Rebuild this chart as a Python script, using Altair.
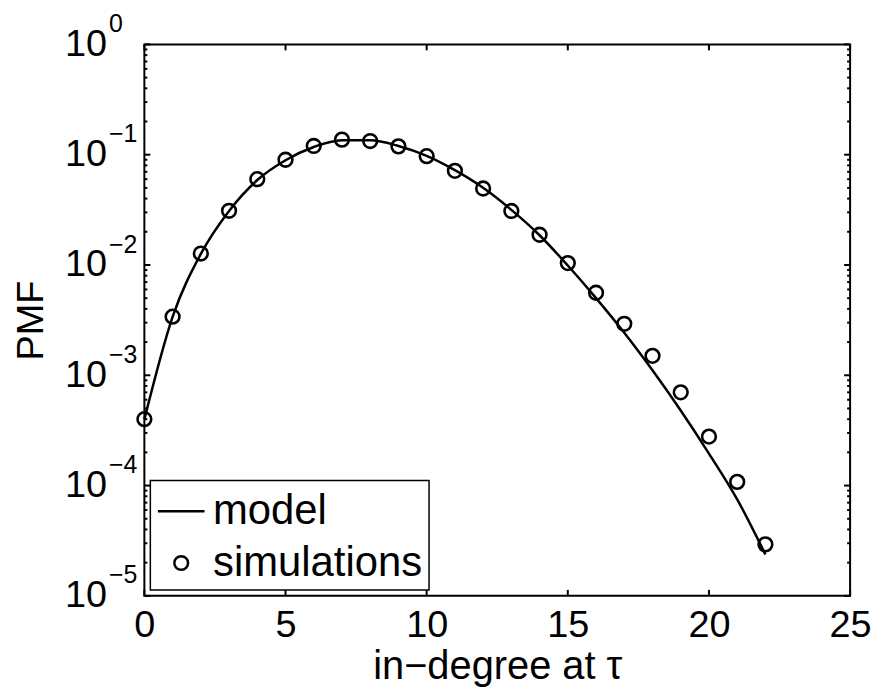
import altair as alt
import pandas as pd

degree = list(range(23))
sim_pmf = [4.0e-4, 3.4e-3, 1.27e-2, 3.1e-2, 6.0e-2, 9.0e-2, 0.120, 0.137, 0.133,
           0.119, 0.097, 0.0714, 0.0494, 0.0309, 0.0188, 0.0104, 5.6e-3, 2.93e-3,
           1.50e-3, 7.0e-4, 2.78e-4, 1.08e-4, 2.93e-5]
model_pmf = [3.98e-4, 3.39e-3, 1.26e-2, 3.09e-2, 5.89e-2, 8.91e-2, 0.1175, 0.135,
             0.135, 0.120, 0.0977, 0.0724, 0.0501, 0.0316, 0.0186, 9.89e-3, 5.01e-3,
             2.43e-3, 1.109e-3, 4.79e-4, 1.95e-4, 7.50e-5, 2.37e-5]
series_names = ["model", "simulations"]
x_ticks = [0, 5, 10, 15, 20, 25]
y_major = [1e-5, 1e-4, 1e-3, 1e-2, 1e-1, 1e0]
y_minor = [k * d for d in [1e-5, 1e-4, 1e-3, 1e-2, 1e-1] for k in range(2, 10)]

W, H = 709, 554
FONT = "Liberation Sans"
MAJ, MIN = 6, 3

model_df = pd.DataFrame({"x": degree, "y": model_pmf, "series": "model"})
sim_df = pd.DataFrame({"x": degree, "y": sim_pmf, "series": "simulations"})
xt_df = pd.DataFrame({"x": x_ticks})
ymaj_df = pd.DataFrame({"y": y_major})
ymin_df = pd.DataFrame({"y": y_minor})

xscale = alt.Scale(domain=[0, 25], nice=False, zero=False)
yscale = alt.Scale(type="log", domain=[1e-5, 1], nice=False)

xaxis = alt.Axis(values=x_ticks, ticks=False, domain=False, grid=False,
                 labelFontSize=38, labelFont=FONT, labelColor="black",
                 labelPadding=11, title="in−degree at τ", titleFont=FONT,
                 titleFontSize=40, titleFontWeight="normal", titleColor="black",
                 titlePadding=2, labelFlush=False)
yaxis = alt.Axis(values=y_major, ticks=False, domain=False, grid=False,
                 labelExpr="'10'", labelFontSize=38, labelFont=FONT,
                 labelColor="black", labelPadding=38, labelBaseline="middle",
                 title="PMF", titleFont=FONT, titleFontSize=38,
                 titleFontWeight="normal", titleColor="black", titlePadding=14,
                 orient="left")
expaxis = alt.Axis(values=y_major, ticks=False, domain=False, grid=False,
                   labelExpr="replace('' + round(log(datum.value) / LN10), '-', '−')",
                   labelFontSize=25, labelFont=FONT, labelColor="black",
                   labelPadding=36, labelAlign="left", labelBaseline="middle",
                   labelOffset=-21, title=None, orient="left")

line = alt.Chart(model_df).mark_line(color="black", strokeWidth=2.5,
                                     interpolate="monotone").encode(
    x=alt.X("x:Q", scale=xscale, axis=xaxis),
    y=alt.Y("y:Q", scale=yscale, axis=yaxis),
)

points = alt.Chart(sim_df).mark_point(filled=False, color="black",
                                      strokeWidth=2.6, opacity=1).encode(
    x=alt.X("x:Q", scale=xscale),
    y=alt.Y("y:Q", scale=yscale, axis=expaxis),
    shape=alt.Shape("series:N", scale=alt.Scale(domain=series_names,
                                                range=["stroke", "circle"]),
                    legend=alt.Legend(title=None, orient="bottom-left", offset=6)),
    size=alt.Size("series:N", scale=alt.Scale(domain=series_names,
                                              range=[2200, 190]),
                  legend=alt.Legend(title=None, orient="bottom-left", offset=6)),
)

def rule(df, **enc):
    return alt.Chart(df).mark_rule(color="black", strokeWidth=2).encode(**enc)

tick_layers = [
    rule(xt_df, x=alt.X("x:Q", scale=xscale), y=alt.value(H), y2=alt.value(H - MAJ)),
    rule(xt_df, x=alt.X("x:Q", scale=xscale), y=alt.value(0), y2=alt.value(MAJ)),
    rule(ymaj_df, y=alt.Y("y:Q", scale=yscale, axis=None), x=alt.value(0), x2=alt.value(MAJ)),
    rule(ymaj_df, y=alt.Y("y:Q", scale=yscale, axis=None), x=alt.value(W), x2=alt.value(W - MAJ)),
    rule(ymin_df, y=alt.Y("y:Q", scale=yscale, axis=None), x=alt.value(0), x2=alt.value(MIN)),
    rule(ymin_df, y=alt.Y("y:Q", scale=yscale, axis=None), x=alt.value(W), x2=alt.value(W - MIN)),
]

chart = alt.layer(line, points, *tick_layers).resolve_axis(
    y="independent"
).properties(
    width=W, height=H, background="white",
    padding={"left": 4, "top": 2, "right": 0, "bottom": 0},
).configure_view(
    stroke="black", strokeWidth=2,
).configure_legend(
    strokeColor="black", strokeWidth=1.5, fillColor="white", padding=6,
    labelFont=FONT, labelFontSize=42, labelColor="black", labelOffset=7,
    symbolStrokeColor="black", symbolStrokeWidth=2.5, rowPadding=10,
    labelLimit=400,
)

chart.save("out.html", embed_options={"renderer": "svg", "actions": False})
